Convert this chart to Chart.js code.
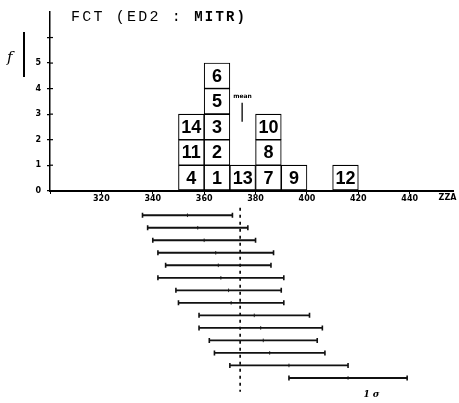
<!DOCTYPE html>
<html>
<head>
<meta charset="utf-8">
<script src="https://cdn.jsdelivr.net/npm/chart.js@4"></script>
<style>
  html, body { margin: 0; padding: 0; background: #fff; }
  #fct { display: block; }
</style>
</head>
<body>
<canvas id="fct" width="459" height="403"></canvas>
<script>
// histogram: sample numbers stacked in each 10-unit bin
const binStarts = [350, 360, 370, 380, 390, 410];
const binSamples = [[4, 11, 14], [1, 2, 3, 5, 6], [13], [7, 8, 10], [9], [12]];
const binWidth = 10;
const fctMean = 374;

// each row: sample value +/- 1 sigma
const rowMid = [353.5, 357.5, 360, 364.5, 365.5, 366.5, 369.5, 370.5, 379.5, 382, 383, 385.5, 393, 416];
const rowSigma = [17.5, 19.5, 20, 22.5, 20.5, 24.5, 20.5, 20.5, 21.5, 24, 21, 21.5, 23, 23];

const xTickValues = [300, 320, 340, 360, 380, 400, 420, 440];
const yTickValues = [0, 1, 2, 3, 4, 5, 6];
const yLabelled = [0, 1, 2, 3, 4, 5];

const boxes = [];
binStarts.forEach((start, i) => {
  binSamples[i].forEach((n, level) => {
    boxes.push({ x: start + binWidth / 2, y: [level, level + 1], label: String(n) });
  });
});

const rows = rowMid.map((m, i) => i + 1);

const errorSets = rowMid.map((m, i) => ({
  type: "line",
  yAxisID: "yRows",
  data: [{ x: m - rowSigma[i], y: rows[i] }, { x: m + rowSigma[i], y: rows[i] }],
  borderColor: "#111",
  borderWidth: 1.9,
  pointStyle: "line",
  rotation: 90,
  pointRadius: 2.5,
  pointBorderWidth: 1.6,
  pointBorderColor: "#111"
}));

const tickFont = { family: "DejaVu Sans", size: 8, weight: "bold" };

const annotate = {
  id: "annotate",
  afterDatasetsDraw(chart) {
    const { ctx, scales: { x, y } } = chart;
    ctx.save();
    ctx.fillStyle = "#000";
    ctx.strokeStyle = "#000";

    // sample numbers inside the boxes
    ctx.font = 'bold 18px "Liberation Sans"';
    ctx.textAlign = "center";
    ctx.textBaseline = "middle";
    chart.getDatasetMeta(0).data.forEach((bar, i) => {
      ctx.fillText(boxes[i].label, bar.x, (bar.y + bar.base) / 2 + 1);
    });

    // title
    ctx.textAlign = "left";
    ctx.textBaseline = "alphabetic";
    ctx.letterSpacing = "2.2px";
    ctx.font = '15px "Liberation Mono"';
    const t1 = "FCT (ED2 : ";
    ctx.fillText(t1, 71, 21);
    const w1 = ctx.measureText(t1).width;
    ctx.font = 'bold 14px "Liberation Mono"';
    ctx.fillText("MITR)", 71 + w1, 21);
    ctx.letterSpacing = "0px";

    // f label with bar
    ctx.font = 'italic 15px "DejaVu Serif"';
    ctx.fillText("f", 7, 62);
    ctx.lineWidth = 2;
    ctx.beginPath();
    ctx.moveTo(24, 32);
    ctx.lineTo(24, 77);
    ctx.stroke();

    // mean marker
    const mx = x.getPixelForValue(fctMean) + 2;
    ctx.lineWidth = 1.3;
    ctx.beginPath();
    ctx.moveTo(mx, y.getPixelForValue(3.45));
    ctx.lineTo(mx, y.getPixelForValue(2.7));
    ctx.stroke();
    ctx.font = 'bold 6px "DejaVu Sans"';
    ctx.textBaseline = "middle";
    ctx.fillText("mean", mx - 9, y.getPixelForValue(3.68));

    // unit at axis end, sigma key
    ctx.font = 'bold 8px "DejaVu Sans"';
    ctx.textAlign = "right";
    ctx.fillText("ZZA", x.right + 3, y.getPixelForValue(0) + 7);
    ctx.textAlign = "left";
    ctx.font = 'bold italic 9px "DejaVu Serif"';
    ctx.fillText("1 σ", x.getPixelForValue(422), chart.chartArea.bottom + 2);

    // cross ticks on the count axis
    ctx.lineWidth = 1.2;
    yTickValues.forEach(v => {
      if (v === 0) return;
      const py = y.getPixelForValue(v);
      ctx.beginPath();
      ctx.moveTo(x.left, py);
      ctx.lineTo(x.left + 3, py);
      ctx.stroke();
    });
    ctx.restore();
  }
};

new Chart(document.getElementById("fct"), {
  type: "bar",
  data: {
    datasets: [
      {
        data: boxes,
        backgroundColor: "#fff",
        borderColor: "#000",
        borderWidth: 1.1,
        borderSkipped: false,
        barPercentage: 1,
        categoryPercentage: 1,
        yAxisID: "y"
      },
      ...errorSets,
      {
        type: "line",
        yAxisID: "yRows",
        data: rowMid.map((m, i) => ({ x: m, y: rows[i] })),
        showLine: false,
        pointStyle: "line",
        rotation: 90,
        pointRadius: 1.8,
        pointBorderWidth: 1,
        pointBorderColor: "#333"
      },
      {
        type: "line",
        yAxisID: "yRows",
        data: [{ x: fctMean, y: 0.4 }, { x: fctMean, y: 15.1 }],
        borderColor: "#000",
        borderWidth: 1.6,
        borderDash: [3, 4],
        pointRadius: 0
      }
    ]
  },
  options: {
    responsive: false,
    animation: false,
    layout: { padding: { left: 34, right: 4, top: 12, bottom: 3 } },
    plugins: { legend: { display: false }, tooltip: { enabled: false } },
    scales: {
      x: {
        type: "linear",
        position: { y: 0 },
        min: 300,
        max: 457,
        offset: false,
        afterBuildTicks: s => { s.ticks = xTickValues.map(v => ({ value: v })); },
        ticks: {
          color: "#000",
          font: tickFont,
          padding: 1,
          maxRotation: 0,
          callback: v => v === 300 ? "" : v
        },
        grid: { display: true, drawOnChartArea: false, offset: false, tickLength: 2, color: "#000" },
        border: { color: "#000", width: 2 }
      },
      y: {
        type: "linear",
        position: "left",
        stack: "left",
        stackWeight: 178.5,
        weight: 1,
        min: 0,
        max: 7,
        afterBuildTicks: s => { s.ticks = yTickValues.map(v => ({ value: v })); },
        afterFit: s => { s.width = 16; },
        ticks: {
          color: "#000",
          font: tickFont,
          padding: 6,
          callback: v => yLabelled.includes(v) ? v : ""
        },
        grid: { display: true, drawOnChartArea: false, tickLength: 3, color: "#000", lineWidth: 1.2 },
        border: { color: "#000", width: 1.5 }
      },
      yRows: {
        type: "linear",
        position: "left",
        stack: "left",
        stackWeight: 201.2,
        weight: 0,
        reverse: true,
        min: -0.96,
        max: 15.14,
        display: false
      }
    }
  },
  plugins: [annotate]
});
</script>
</body>
</html>
